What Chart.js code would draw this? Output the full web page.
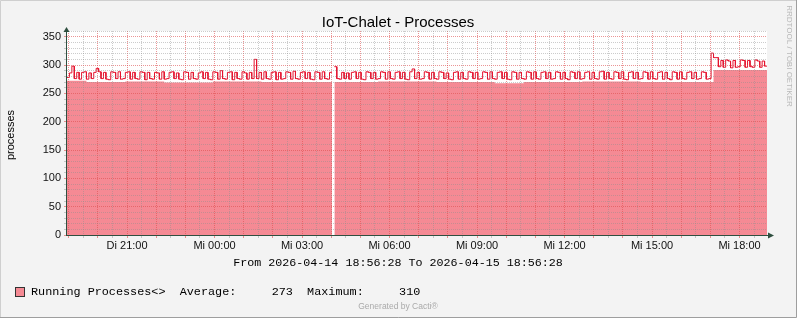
<!DOCTYPE html>
<html>
<head>
<meta charset="utf-8">
<script src="https://cdn.jsdelivr.net/npm/chart.js@4/dist/chart.umd.min.js"></script>
<style>
html, body { margin: 0; padding: 0; background: #f3f3f3; }
canvas { display: block; }
</style>
</head>
<body>
<canvas id="chart" width="797" height="318"></canvas>
<script>
// 5 minute samples, starting 2026-04-14 18:56:28
var stepMinutes = 5;
var runningMax = [
  278, 286, 298, 276, 287, 275, 287, 288, 275, 286, 276, 287, 294, 288, 276, 287, 275, 274, 288, 287, 276, 288, 275, 276,
  287, 288, 275, 287, 276, 275, 288, 287, 274, 287, 276, 275, 287, 286, 275, 288, 275, 276, 287, 288, 276, 286, 275, 274,
  288, 287, 275, 287, 276, 275, 286, 288, 276, 287, 275, 274, 288, 287, 275, 290, 276, 275, 287, 288, 274, 287, 276, 275,
  288, 286, 275, 287, 276, 310, 276, 287, 275, 288, 276, 275, 287, 288, 274, 287, 275, 276, 288, 287, 275, 289, 276, 275,
  287, 288, 276, 287, 275, 274, 288, 287, 275, 288, 276, 275, 287, null, 297, 276, 275, 287, 276, 286, 275, 287, 288, 276,
  287, 275, 274, 288, 287, 276, 287, 275, 276, 288, 287, 275, 288, 276, 275, 287, 288, 276, 287, 275, 274, 288, 293, 276,
  287, 275, 276, 288, 287, 275, 287, 276, 275, 288, 287, 276, 286, 275, 274, 287, 288, 275, 287, 276, 275, 288, 287, 276,
  287, 275, 276, 288, 287, 275, 288, 276, 275, 287, 288, 276, 287, 275, 274, 288, 287, 275, 287, 276, 275, 288, 287, 275,
  288, 276, 275, 287, 288, 276, 287, 275, 276, 288, 287, 275, 287, 276, 274, 288, 287, 276, 288, 275, 276, 287, 288, 275,
  287, 276, 275, 288, 289, 275, 287, 276, 275, 288, 287, 276, 288, 275, 274, 287, 288, 276, 287, 275, 276, 288, 287, 275,
  288, 276, 275, 287, 288, 275, 287, 276, 274, 288, 287, 275, 288, 276, 275, 287, 288, 276, 287, 275, 276, 288, 287, 275,
  276, 321, 313, 313, 297, 308, 296, 309, 307, 295, 308, 296, 297, 309, 308, 296, 308, 297, 296, 309, 307, 296, 307, 298
];
// average area, given as change points (minute, value)
var avgMinutes = [0, 40, 120, 200, 300, 400, 540, 545, 550, 640, 760, 880, 940, 1060, 1180, 1330, 1440];
var avgValues = [272, 270, 271, 269, 271, 270, 270, null, 270, 271, 270, 268, 270, 271, 270, 291, 291];

var xTickLabels = ['Di 21:00', 'Mi 00:00', 'Mi 03:00', 'Mi 06:00', 'Mi 09:00', 'Mi 12:00', 'Mi 15:00', 'Mi 18:00'];
var firstLabelMinute = 123.53; // 21:00 after 18:56:28
var labelEvery = 180;
var totalMinutes = 1440;
var yMax = 360;

var SANS = '"Liberation Sans", Arial, sans-serif';
var MONO = '"Liberation Mono", "DejaVu Sans Mono", monospace';
var GRID = 'rgba(143,143,143,0.45)';
var MGRID = 'rgba(222,79,79,0.6)';
var AXIS = '#2f4f3f';

// rrd style steps: each value holds until the next sample
function steps(starts, values, end) {
  var pts = [];
  values.forEach(function(v, i) {
    if (v === null) { pts.push({x: starts[i], y: null}); return; }
    var next = i + 1 < starts.length ? starts[i + 1] : end;
    pts.push({x: starts[i], y: v}, {x: next, y: v});
  });
  return pts;
}
var lineStarts = runningMax.map(function(v, i) { return i * stepMinutes; });
var linePoints = steps(lineStarts, runningMax, totalMinutes);
var areaPoints = steps(avgMinutes.slice(0, -1), avgValues.slice(0, -1), totalMinutes);

function isMajorX(v) {
  var d = (v - firstLabelMinute) / 60;
  return Math.abs(d - Math.round(d)) < 0.01;
}

var rrdLook = {
  id: 'rrdLook',
  beforeDraw: function(chart) {
    var ctx = chart.ctx, a = chart.chartArea;
    ctx.save();
    ctx.fillStyle = '#f3f3f3';
    ctx.fillRect(0, 0, chart.width, chart.height);
    ctx.fillStyle = '#ffffff';
    ctx.fillRect(a.left, a.top, a.right - a.left, a.bottom - a.top);
    ctx.restore();
  },
  afterDraw: function(chart) {
    var ctx = chart.ctx, a = chart.chartArea;
    ctx.save();
    // axes with arrows
    ctx.strokeStyle = AXIS;
    ctx.fillStyle = AXIS;
    ctx.lineWidth = 1;
    ctx.beginPath();
    ctx.moveTo(66.5, a.bottom + 0.5);
    ctx.lineTo(66.5, 30);
    ctx.moveTo(66, a.bottom + 0.5);
    ctx.lineTo(769, a.bottom + 0.5);
    ctx.stroke();
    ctx.beginPath();
    ctx.moveTo(66.5, 27); ctx.lineTo(63.5, 32); ctx.lineTo(69.5, 32); ctx.closePath();
    ctx.fill();
    ctx.beginPath();
    ctx.moveTo(774, a.bottom + 0.5); ctx.lineTo(768, a.bottom - 2.5); ctx.lineTo(768, a.bottom + 3.5); ctx.closePath();
    ctx.fill();

    // title
    ctx.fillStyle = '#000';
    ctx.textAlign = 'center';
    ctx.textBaseline = 'alphabetic';
    ctx.font = '15px ' + SANS;
    ctx.fillText('IoT-Chalet - Processes', 398, 27);

    // y axis title
    ctx.save();
    ctx.translate(11, 135);
    ctx.rotate(-Math.PI / 2);
    ctx.font = '11px ' + SANS;
    ctx.textBaseline = 'middle';
    ctx.fillText('processes', 0, 0);
    ctx.restore();

    // watermark on the right
    ctx.save();
    ctx.translate(789, 56);
    ctx.rotate(Math.PI / 2);
    ctx.font = '8px ' + SANS;
    ctx.fillStyle = '#b8b8b8';
    ctx.textBaseline = 'middle';
    ctx.fillText('RRDTOOL / TOBI OETIKER', 0, 0);
    ctx.restore();

    // time range
    ctx.font = '11.7px ' + MONO;
    ctx.textBaseline = 'middle';
    ctx.fillText('From 2026-04-14 18:56:28 To 2026-04-15 18:56:28', 398, 263);

    // legend
    ctx.fillStyle = '#f58a94';
    ctx.fillRect(15, 287, 9, 9);
    ctx.strokeStyle = '#333';
    ctx.strokeRect(15.5, 287.5, 9, 9);
    ctx.fillStyle = '#000';
    ctx.textAlign = 'left';
    ctx.font = '11.8px ' + MONO;
    ctx.fillText('Running Processes<>  Average:     273  Maximum:     310', 31, 291.5);

    ctx.textAlign = 'center';
    ctx.font = '8.5px ' + SANS;
    ctx.fillStyle = '#aaaaaa';
    ctx.fillText('Generated by Cacti\u00ae', 398, 307);

    // frame
    ctx.strokeStyle = '#cfcfcf';
    ctx.beginPath();
    ctx.moveTo(0.5, chart.height); ctx.lineTo(0.5, 0.5); ctx.lineTo(chart.width, 0.5);
    ctx.stroke();
    ctx.strokeStyle = '#9e9e9e';
    ctx.beginPath();
    ctx.moveTo(chart.width - 0.5, 0); ctx.lineTo(chart.width - 0.5, chart.height - 0.5); ctx.lineTo(0, chart.height - 0.5);
    ctx.stroke();
    ctx.restore();
  }
};

var config = {
  type: 'line',
  data: {
    datasets: [{
      label: 'Running Processes',
      data: linePoints,
      borderColor: '#e5132e',
      borderWidth: 1,
      pointRadius: 0,
      fill: false,
      spanGaps: false
    }, {
      label: 'Average',
      data: areaPoints,
      backgroundColor: '#f58a94',
      borderWidth: 0,
      pointRadius: 0,
      fill: 'origin',
      spanGaps: false
    }]
  },
  options: {
    responsive: false,
    animation: false,
    events: [],
    layout: { padding: { top: 31, right: 30, left: 0, bottom: 0 } },
    plugins: { legend: { display: false }, tooltip: { enabled: false }, title: { display: false } },
    scales: {
      x: {
        type: 'linear',
        min: 0,
        max: totalMinutes,
        afterFit: function(scale) { scale.height = 83; },
        afterBuildTicks: function(scale) {
          var t = [];
          for (var m = firstLabelMinute - 120; m < totalMinutes; m += 30) t.push({value: m});
          scale.ticks = t;
        },
        border: { display: false, dash: [1, 1] },
        grid: {
          z: 1,
          tickLength: 3,
          color: function(c) { return isMajorX(c.tick.value) ? MGRID : GRID; },
          tickColor: function(c) { return isMajorX(c.tick.value) ? MGRID : GRID; }
        },
        ticks: {
          autoSkip: false,
          maxRotation: 0,
          padding: 1,
          color: '#111',
          font: { family: SANS, size: 11 },
          callback: function(v) {
            var d = (v - firstLabelMinute) / labelEvery;
            var k = Math.round(d);
            if (Math.abs(d - k) < 0.01 && k >= 0 && k < xTickLabels.length) return xTickLabels[k];
            return '';
          }
        }
      },
      y: {
        min: 0,
        max: yMax,
        afterFit: function(scale) { scale.width = 67; },
        border: { display: false, dash: [1, 1] },
        grid: {
          z: 1,
          tickLength: 3,
          color: function(c) { return c.tick.value % 50 === 0 ? MGRID : GRID; },
          tickColor: function(c) { return c.tick.value % 50 === 0 ? MGRID : GRID; }
        },
        ticks: {
          stepSize: 10,
          autoSkip: false,
          padding: 3,
          color: '#111',
          font: { family: SANS, size: 11 },
          callback: function(v) { return v % 50 === 0 ? v : ''; }
        }
      }
    }
  },
  plugins: [rrdLook]
};

window.myChart = new Chart(document.getElementById('chart').getContext('2d'), config);
</script>
</body>
</html>
